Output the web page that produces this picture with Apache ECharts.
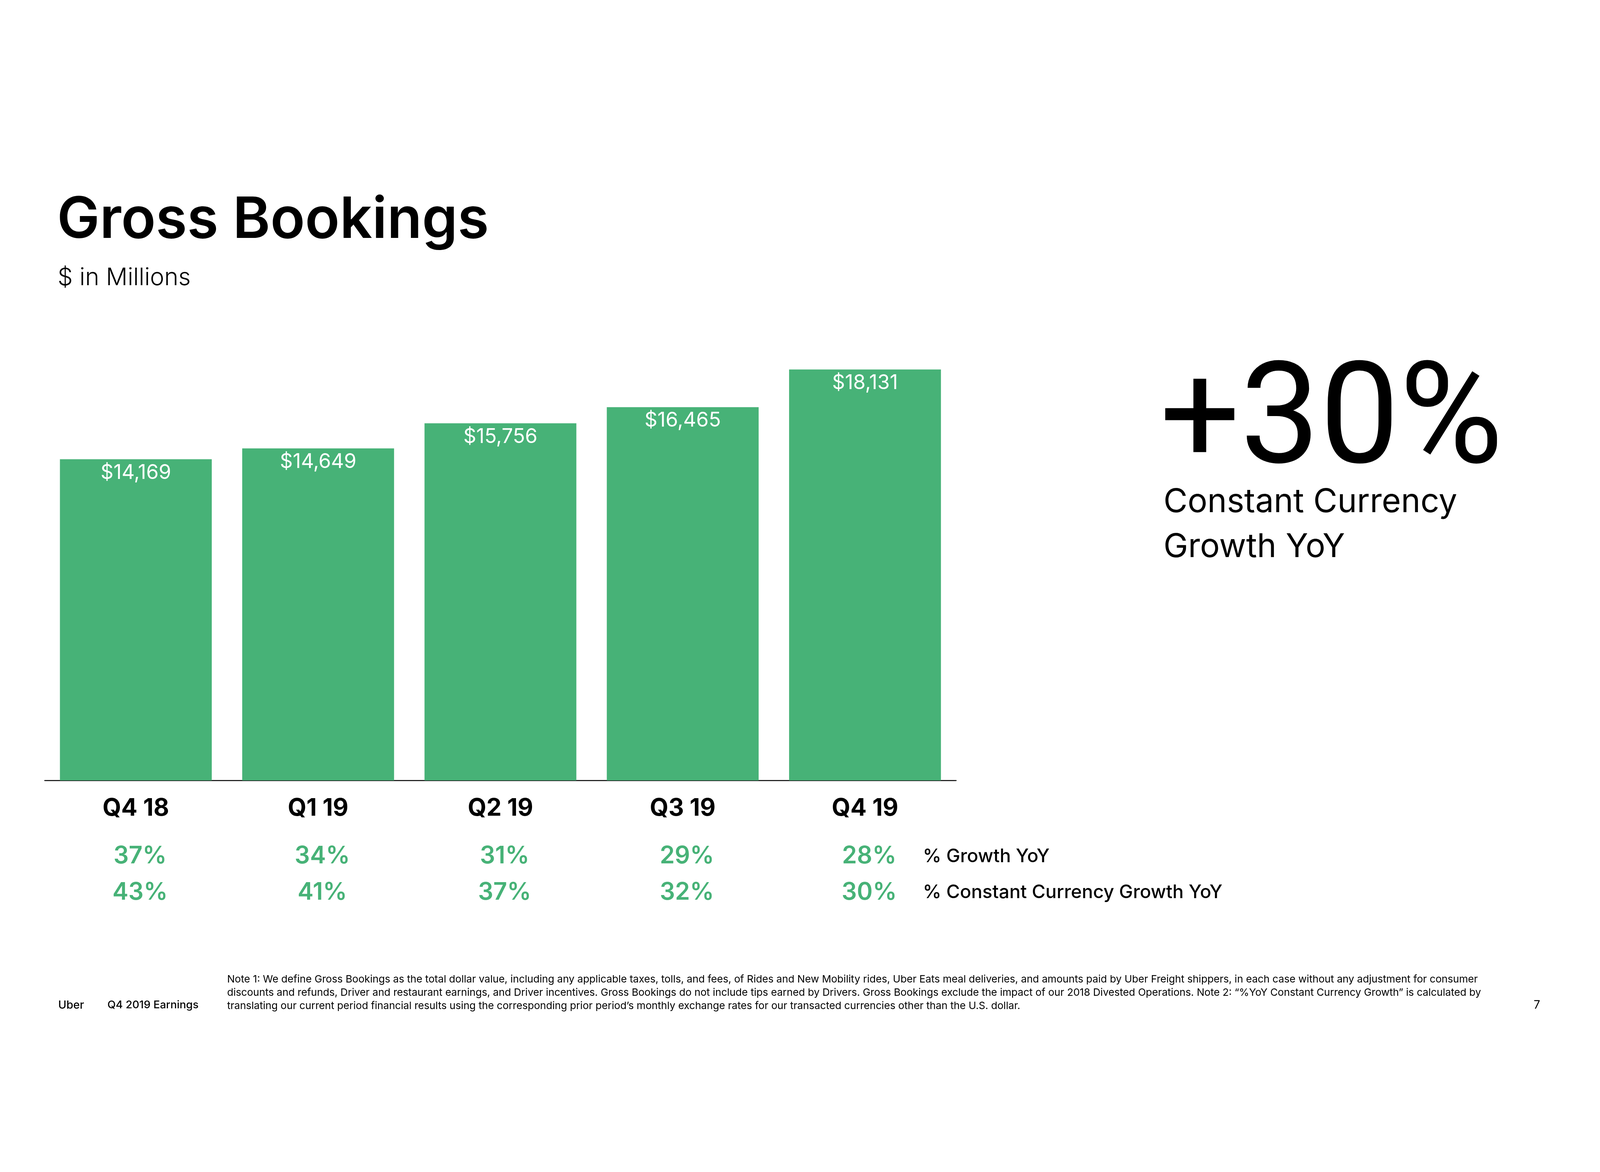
<!DOCTYPE html>
<html>
<head>
<meta charset="utf-8">
<script src="https://cdn.jsdelivr.net/npm/echarts@6/dist/echarts.min.js"></script>
<style>
html,body{margin:0;padding:0;background:#fff;overflow:hidden;}
#chart{width:100vw;height:100vh;}
</style>
</head>
<body>
<div id="chart"></div>
<script>
const categories = ['Q4 18', 'Q1 19', 'Q2 19', 'Q3 19', 'Q4 19'];
const bookings = [14169, 14649, 15756, 16465, 18131];
const growthYoY = [37, 34, 31, 29, 28];
const constantCurrencyGrowth = [43, 41, 37, 32, 30];
const rowTitles = ['% Growth YoY', '% Constant Currency Growth YoY'];
const headlineValue = '+30%';
const headlineLines = ['Constant Currency', 'Growth YoY'];
const noteLines = [
  'Note 1: We define Gross Bookings as the total dollar value, including any applicable taxes, tolls, and fees, of Rides and New Mobility rides, Uber Eats meal deliveries, and amounts paid by Uber Freight shippers, in each case without any adjustment for consumer',
  'discounts and refunds, Driver and restaurant earnings, and Driver incentives. Gross Bookings do not include tips earned by Drivers. Gross Bookings exclude the impact of our 2018 Divested Operations. Note 2: \u201c%YoY Constant Currency Growth\u201d is calculated by',
  'translating our current period financial results using the corresponding prior period\u2019s monthly exchange rates for our transacted currencies other than the U.S. dollar.'
];

const GREEN = '#47B277';
const FONT = 'Inter, "Noto Sans", sans-serif';

const el = document.getElementById('chart');
const W = el.clientWidth, H = el.clientHeight;
// design space is 5333 x 3000; scale uniformly to the actual window
const s = Math.min(W / 5333, H / 3000);
const px = v => v * s;
const ox = (W - 5333 * s) / 2, oy = (H - 3000 * s) / 2;

const chart = echarts.init(el, null, {renderer: 'canvas'});

function pctAxis(values, margin) {
  return {
    type: 'category',
    gridIndex: 0,
    position: 'bottom',
    data: values.map(v => v + '%'),
    axisLine: {show: false},
    axisTick: {show: false},
    splitLine: {show: false},
    axisLabel: {
      margin: px(margin),
      color: GREEN,
      fontFamily: FONT,
      fontWeight: 600,
      fontSize: px(80),
      padding: [0, 0, 0, px(28)],
      interval: 0
    }
  };
}

function txt(x, y, text, weight, size, family) {
  return {type: 'text', x: ox + px(x), y: oy + px(y),
    style: {text: text, font: weight + ' ' + px(size) + 'px ' + (family || FONT), fill: '#000'}};
}

const graphics = [
  txt(190, 188, 'Gross Bookings', 600, 190),
  txt(192, 434, '$ in Millions', 300, 80),
  txt(3866, 733, headlineValue, 400, 472, 'Roboto, Inter, sans-serif'),
  txt(3878, 1166, headlineLines[0], 400, 110),
  txt(3878, 1316, headlineLines[1], 400, 110),
  txt(3076, 2370, rowTitles[0], 500, 62),
  txt(3076, 2491, rowTitles[1], 500, 62),
  txt(194, 2879, 'Uber', 500, 37),
  txt(358, 2879, 'Q4 2019 Earnings', 500, 36),
  txt(5112, 2878, '7', 400, 38)
];
noteLines.forEach((t, i) => {
  graphics.push(txt(757, 2795 + i * 44, t, 400, 34));
});

const option = {
  backgroundColor: '#fff',
  animation: false,
  grid: {left: ox + px(149), top: oy + px(637), width: px(3038), height: px(1511), containLabel: false},
  xAxis: [
    {
      type: 'category',
      gridIndex: 0,
      position: 'bottom',
      data: categories,
      axisLine: {show: true, lineStyle: {color: '#000', width: px(3)}},
      axisTick: {show: false},
      splitLine: {show: false},
      axisLabel: {
        margin: px(54),
        color: '#000',
        fontFamily: FONT,
        fontWeight: 700,
        fontSize: px(80),
        interval: 0
      }
    },
    pctAxis(growthYoY, 213),
    pctAxis(constantCurrencyGrowth, 334)
  ],
  yAxis: {type: 'value', min: 0, max: 20000, show: false, splitLine: {show: false}},
  series: [{
    type: 'bar',
    xAxisIndex: 0,
    data: bookings,
    barWidth: '83.3%',
    itemStyle: {color: GREEN},
    label: {
      show: true,
      position: 'insideTop',
      distance: px(12),
      color: '#fff',
      fontFamily: FONT,
      fontWeight: 400,
      fontSize: px(67),
      formatter: p => '$' + p.value.toLocaleString('en-US')
    }
  }],
  graphic: graphics
};

chart.setOption(option);
</script>
</body>
</html>
